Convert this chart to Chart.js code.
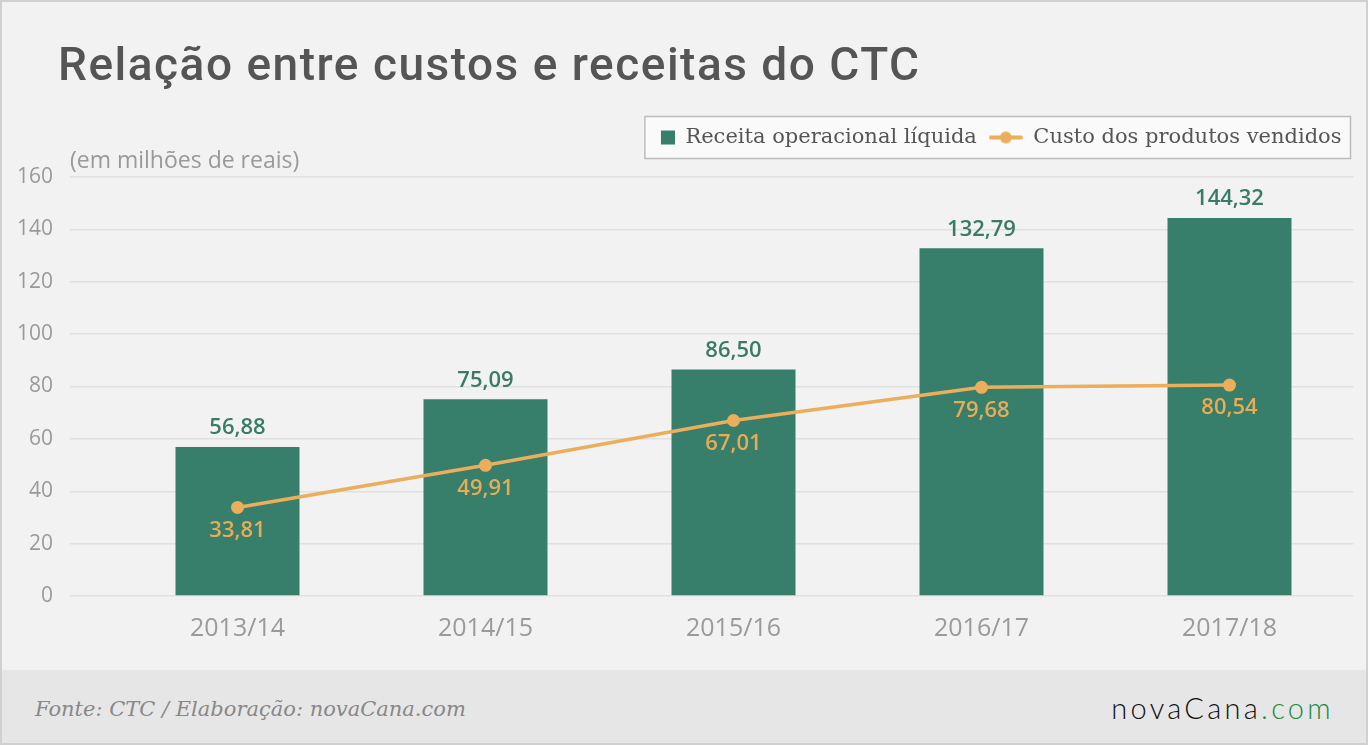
<!DOCTYPE html>
<html>
<head>
<meta charset="utf-8">
<script src="https://cdn.jsdelivr.net/npm/chart.js@4.4.0/dist/chart.umd.min.js"></script>
<style>
html, body { margin: 0; padding: 0; background: #f2f2f2; }
#wrap { position: relative; width: 1368px; height: 745px; background: #f2f2f2; overflow: hidden; }
#chart-box { position: absolute; left: 0; top: 0; width: 1368px; height: 670px; }
#title { position: absolute; left: 58px; top: 37px; margin: 0; font: 500 46px Roboto, sans-serif; letter-spacing: 1.5px; color: #555; white-space: nowrap; }
#unit { position: absolute; left: 70px; top: 143px; font: 23px 'Open Sans', sans-serif; color: #999; white-space: nowrap; }
#footer { position: absolute; left: 0; top: 670px; width: 1368px; height: 75px; background: #e6e6e6; }
#source { position: absolute; left: 35px; top: 27px; font: italic 21px 'DejaVu Serif', serif; color: #888; white-space: nowrap; }
#logo { position: absolute; right: 34px; top: 20px; font: 300 29px Lato, sans-serif; letter-spacing: 3.3px; color: #111; white-space: nowrap; }
#logo span { color: #1e8a3c; }
#frame { position: absolute; left: 0; top: 0; width: 1368px; height: 745px; box-sizing: border-box; border: 2px solid #d0d0d0; pointer-events: none; }
</style>
</head>
<body>
<div id="wrap">
  <div id="chart-box"><canvas id="ctc-chart"></canvas></div>
  <h1 id="title">Relação entre custos e receitas do CTC</h1>
  <div id="unit">(em milhões de reais)</div>
  <div id="footer">
    <div id="source">Fonte: CTC / Elaboração: novaCana.com</div>
    <div id="logo">novaCana<span>.com</span></div>
  </div>
  <div id="frame"></div>
</div>
<script>
const safras = ['2013/14', '2014/15', '2015/16', '2016/17', '2017/18'];
const receitaLiquida = [56.88, 75.09, 86.50, 132.79, 144.32];
const custoProdutos = [33.81, 49.91, 67.01, 79.68, 80.54];
const yMin = 0;
const yMax = 160;
const yStep = 20;

const GREEN = '#377e6b';
const ORANGE = '#ebae5c';

Chart.defaults.font.family = "'Open Sans', sans-serif";

// legend icons (34px wide so both entries line up the same way)
function makeIcon(kind){
    const c = document.createElement('canvas');
    c.width = 34;
    c.height = 20;
    const g = c.getContext('2d');
    if(kind == 'bar'){
        g.fillStyle = GREEN;
        g.fillRect(20, 3, 14, 14);
    }
    else{
        g.strokeStyle = ORANGE;
        g.lineWidth = 4;
        g.lineCap = 'round';
        g.beginPath();
        g.moveTo(2, 10);
        g.lineTo(32, 10);
        g.stroke();
        g.fillStyle = ORANGE;
        g.beginPath();
        g.arc(17, 10, 6, 0, Math.PI * 2);
        g.fill();
    }
    return c;
}
const icons = [makeIcon('bar'), makeIcon('line')];

function fmt(v){
    return v.toFixed(2).replace('.', ',');
}

// box round the legend
const legendFrame = {
    id: 'legendFrame',
    beforeDraw(chart){
        const boxes = chart.legend && chart.legend.legendHitBoxes;
        if(!boxes || !boxes.length) return;
        const first = boxes[0];
        const last = boxes[boxes.length - 1];
        const cy = first.top + first.height / 2;
        const x0 = first.left + 4;
        const x1 = last.left + last.width + 9;
        const ctx = chart.ctx;
        ctx.save();
        ctx.fillStyle = '#fafafa';
        ctx.fillRect(x0, cy - 21, x1 - x0, 42);
        ctx.strokeStyle = '#bdbdbd';
        ctx.lineWidth = 1.5;
        ctx.strokeRect(x0, cy - 21, x1 - x0, 42);
        ctx.restore();
    }
};

// values over the bars and under the points
const valueLabels = {
    id: 'valueLabels',
    afterDatasetsDraw(chart){
        const ctx = chart.ctx;
        ctx.save();
        ctx.textAlign = 'center';
        ctx.textBaseline = 'middle';
        chart.data.datasets.forEach((ds, i) => {
            const meta = chart.getDatasetMeta(i);
            meta.data.forEach((el, j) => {
                if(ds.type == 'bar'){
                    ctx.font = "600 22px 'Open Sans', sans-serif";
                    ctx.fillStyle = '#3a7b68';
                    ctx.fillText(fmt(ds.data[j]), el.x, el.y - 19);
                }
                else{
                    ctx.font = "600 22px 'Open Sans', sans-serif";
                    ctx.fillStyle = '#e9ab55';
                    ctx.fillText(fmt(ds.data[j]), el.x, el.y + 23);
                }
            });
        });
        ctx.restore();
    }
};

const ctcData = {
    labels: safras,
    datasets: [
        {
            type: 'bar',
            label: 'Receita operacional líquida',
            data: receitaLiquida,
            backgroundColor: GREEN,
            barPercentage: 0.5,
            categoryPercentage: 1.0,
            order: 2
        },
        {
            type: 'line',
            label: 'Custo dos produtos vendidos',
            data: custoProdutos,
            borderColor: ORANGE,
            backgroundColor: ORANGE,
            borderWidth: 3.5,
            pointRadius: 6.5,
            pointBackgroundColor: ORANGE,
            pointBorderWidth: 0,
            tension: 0,
            order: 1
        }
    ]
};

const ctcConfig = {
    data: ctcData,
    options: {
        responsive: true,
        maintainAspectRatio: false,
        animation: false,
        layout: {
            padding: { top: 115, right: 14.5, left: 0, bottom: 0 }
        },
        plugins: {
            tooltip: { enabled: false },
            legend: {
                display: true,
                position: 'top',
                align: 'end',
                labels: {
                    usePointStyle: true,
                    pointStyleWidth: 34,
                    padding: 12,
                    color: '#555',
                    font: { family: "'DejaVu Serif', serif", size: 21 },
                    generateLabels(chart){
                        return chart.data.datasets.map((ds, i) => ({
                            text: ds.label,
                            pointStyle: icons[i],
                            fillStyle: ds.backgroundColor,
                            strokeStyle: ds.backgroundColor,
                            lineWidth: 0,
                            fontColor: '#555',
                            hidden: !chart.isDatasetVisible(i),
                            datasetIndex: i
                        }));
                    }
                }
            }
        },
        scales: {
            x: {
                type: 'category',
                grid: { display: false, drawTicks: false },
                border: { display: false },
                ticks: {
                    color: '#9a9a9a',
                    padding: 18,
                    font: { size: 25 }
                },
                afterFit(scale){ scale.height = 74; }
            },
            gap: {
                type: 'category',
                position: 'top',
                labels: safras,
                grid: { display: false, drawTicks: false },
                border: { display: false },
                ticks: { display: false },
                afterFit(scale){ scale.height = 19; }
            },
            y: {
                min: yMin,
                max: yMax,
                border: { display: false },
                grid: {
                    color: '#e0e0e0',
                    lineWidth: 1.5,
                    drawTicks: true,
                    tickLength: 43.5,
                    tickColor: '#e0e0e0'
                },
                ticks: {
                    stepSize: yStep,
                    color: '#9a9a9a',
                    padding: 17,
                    font: { size: 21 }
                },
                afterFit(scale){ scale.width = 113.5; }
            }
        }
    },
    plugins: [legendFrame, valueLabels]
};

const ctcChart = new Chart(document.getElementById('ctc-chart'), ctcConfig);
</script>
</body>
</html>
